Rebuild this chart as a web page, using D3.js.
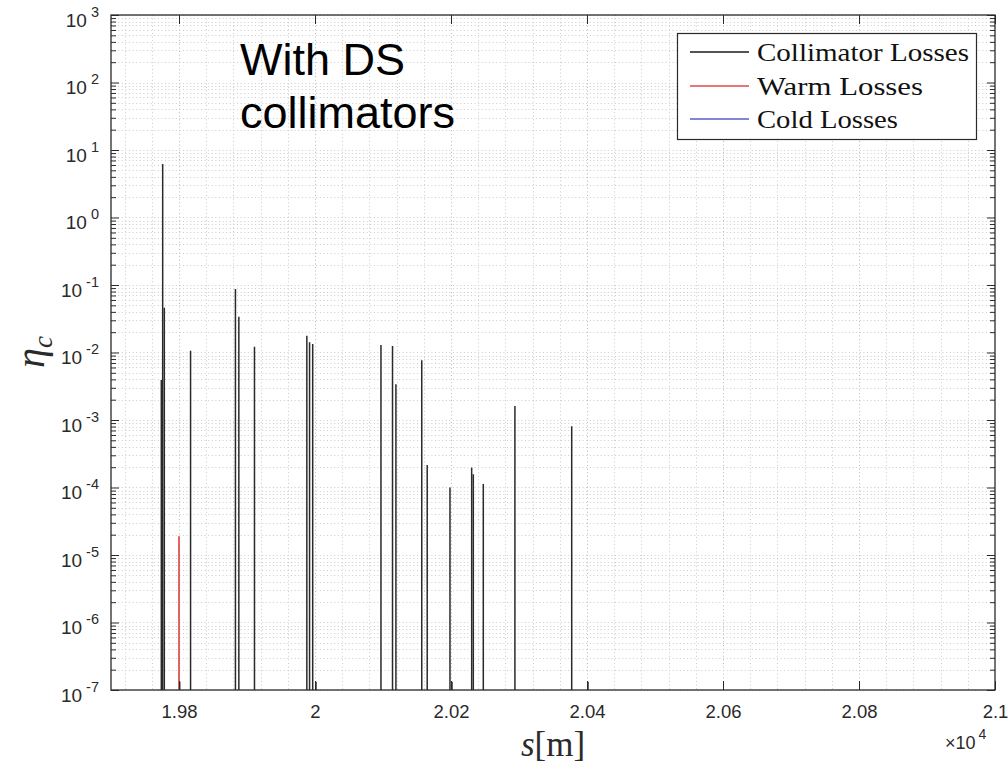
<!DOCTYPE html>
<html>
<head>
<meta charset="utf-8">
<script src="https://cdn.jsdelivr.net/npm/d3@7/dist/d3.min.js"></script>
<style>
  html, body { margin: 0; padding: 0; background: #fff; }
  svg { display: block; }
</style>
</head>
<body>
<svg id="chart" width="1008" height="765"></svg>
<script>
// ---- data (s in metres, eta_c values) ----
const collimatorS = [19774, 19776, 19778.4, 19817, 19883, 19888, 19911, 19988, 19992, 19996.6,
                     20097, 20114, 20119, 20157, 20165, 20198.5, 20230.4, 20232.8, 20247.5, 20294, 20377.5];
const collimatorV = [0.0039, 6.2, 0.046, 0.0106, 0.087, 0.034, 0.0122, 0.0177, 0.0142, 0.0134,
                     0.0129, 0.0125, 0.0034, 0.0077, 0.000215, 0.0001, 0.000197, 0.000157, 0.000113, 0.00161, 0.00081];
const smallS = [19801, 20001.5, 20201.5, 20401.5];
const smallV = [1.33e-7, 1.33e-7, 1.33e-7, 1.33e-7];
const warmS = [19800];
const warmV = [1.9e-5];
const coldS = [];
const coldV = [];
const xTickValues = [19800, 20000, 20200, 20400, 20600, 20800, 21000];
const yExponents = [-7, -6, -5, -4, -3, -2, -1, 0, 1, 2, 3];
const legendLabels = ["Collimator Losses", "Warm Losses", "Cold Losses"];
const legendColors = ["#1a1a1a", "#e04848", "#5a5ad0"];

// ---- layout ----
const L = 111, R = 995, T = 15, B = 690;
const svg = d3.select("#chart");
const x = d3.scaleLinear().domain([19700, 21000]).range([L, R]);
const y = d3.scaleLog().domain([1e-7, 1e3]).range([B, T]);
const axisColor = "#2a2a2a";
const sansFont = "'Liberation Sans', Arial, Helvetica, sans-serif";
const serifFont = "'Liberation Serif', 'Times New Roman', serif";

svg.append("rect").attr("x", L).attr("y", T).attr("width", R - L).attr("height", B - T).attr("fill", "#fff");

// ---- grid ----
const grid = svg.append("g");
const xMinor = d3.range(19720, 21000, 40);
grid.selectAll("line.vx").data(xMinor).enter().append("line")
  .attr("x1", d => Math.round(x(d)) + 0.5).attr("x2", d => Math.round(x(d)) + 0.5).attr("y1", T).attr("y2", B)
  .attr("stroke", d => (d % 200 === 0) ? "#b8b8b8" : "#cccccc")
  .attr("stroke-width", 1).attr("stroke-dasharray", "1,2.6");
const yMinor = [];
for (let e = -7; e < 3; e++) for (let k = 1; k <= 9; k++) yMinor.push(k * Math.pow(10, e));
yMinor.push(1e3);
grid.selectAll("line.hy").data(yMinor).enter().append("line")
  .attr("x1", L).attr("x2", R).attr("y1", d => Math.round(y(d)) + 0.5).attr("y2", d => Math.round(y(d)) + 0.5)
  .attr("stroke", "#cccccc").attr("stroke-width", 1).attr("stroke-dasharray", "1,2.6");

// ---- stems ----
svg.append("clipPath").attr("id", "pc").append("rect")
  .attr("x", L).attr("y", T).attr("width", R - L).attr("height", B - T);
const plot = svg.append("g").attr("clip-path", "url(#pc)");
function stems(sArr, vArr, color, width) {
  plot.append("g").selectAll("line").data(sArr.map((s, i) => [s, vArr[i]])).enter().append("line")
    .attr("x1", d => x(d[0])).attr("x2", d => x(d[0]))
    .attr("y1", y(1e-7)).attr("y2", d => y(d[1]))
    .attr("stroke", color).attr("stroke-width", width);
}
stems(collimatorS, collimatorV, "#2a2a2a", 1.5);
stems(smallS, smallV, "#555", 1.8);
stems(warmS, warmV, "#e04848", 1.7);
stems(coldS, coldV, "#5a5ad0", 1.5);

// ---- axes ----
function styleAxis(g) {
  g.select(".domain").remove();
  g.selectAll(".tick line").attr("stroke", axisColor).attr("stroke-width", 1);
  g.selectAll("text").attr("fill", axisColor).attr("font-family", sansFont).attr("font-size", 18.5);
}
const fmtX = d => String(+(d / 1e4).toFixed(2));
svg.append("g").attr("transform", `translate(0,${B})`)
  .call(d3.axisBottom(x).tickValues(xTickValues).tickSizeInner(-9).tickSizeOuter(0).tickPadding(15).tickFormat(fmtX))
  .call(styleAxis);
svg.append("g").attr("transform", `translate(0,${T})`)
  .call(d3.axisTop(x).tickValues(xTickValues).tickSizeInner(-9).tickSizeOuter(0).tickFormat(""))
  .call(styleAxis);

const yMajor = yExponents.map(e => Math.pow(10, e));
const yMinorTicks = yMinor.filter(v => !yMajor.some(m => Math.abs(m - v) / m < 1e-9));
const yl = svg.append("g").attr("transform", `translate(${L},0)`)
  .call(d3.axisLeft(y).tickValues(yMajor).tickSizeInner(-8).tickSizeOuter(0).tickPadding(0).tickFormat(""))
  .call(styleAxis);
svg.append("g").attr("transform", `translate(${L},0)`)
  .call(d3.axisLeft(y).tickValues(yMinorTicks).tickSizeInner(-5).tickSizeOuter(0).tickFormat(""))
  .call(styleAxis);
svg.append("g").attr("transform", `translate(${R},0)`)
  .call(d3.axisRight(y).tickValues(yMajor).tickSizeInner(-8).tickSizeOuter(0).tickFormat(""))
  .call(styleAxis);
svg.append("g").attr("transform", `translate(${R},0)`)
  .call(d3.axisRight(y).tickValues(yMinorTicks).tickSizeInner(-5).tickSizeOuter(0).tickFormat(""))
  .call(styleAxis);

// y tick labels 10^e
yl.selectAll(".tick").each(function(d) {
  const e = Math.round(Math.log10(d));
  const t = d3.select(this).append("text")
    .attr("x", -12).attr("y", 11).attr("text-anchor", "end")
    .attr("fill", axisColor).attr("font-family", sansFont).attr("font-size", 19);
  t.append("tspan").text("10");
  t.append("tspan").attr("dx", 4).attr("dy", -10).attr("font-size", 14.5).text(String(e));
});

// box
svg.append("rect").attr("x", L).attr("y", T).attr("width", R - L).attr("height", B - T)
  .attr("fill", "none").attr("stroke", axisColor).attr("stroke-width", 1.3);

// ×10^4
const mult = svg.append("text").attr("x", 945).attr("y", 749)
  .attr("fill", axisColor).attr("font-family", sansFont).attr("font-size", 18);
mult.append("tspan").text("×10");
mult.append("tspan").attr("dx", 3).attr("dy", -10).attr("font-size", 14).text("4");

// axis labels
const xl = svg.append("text").attr("x", 553).attr("y", 756).attr("text-anchor", "middle")
  .attr("fill", axisColor).attr("font-family", serifFont).attr("font-size", 35);
xl.append("tspan").attr("font-style", "italic").text("s");
xl.append("tspan").text("[m]");

const ylab = svg.append("text").attr("transform", "translate(44,352) rotate(-90)").attr("text-anchor", "middle")
  .attr("fill", axisColor).attr("font-family", serifFont).attr("font-size", 40);
ylab.append("tspan").attr("font-style", "italic").text("η");
ylab.append("tspan").attr("font-style", "italic").attr("font-size", 27).attr("dy", 8).text("c");

// annotation
const ann = svg.append("text").attr("fill", "#000").attr("font-family", sansFont).attr("font-size", 45);
ann.append("tspan").attr("x", 240).attr("y", 75).text("With DS");
ann.append("tspan").attr("x", 240).attr("y", 128).text("collimators");

// legend
const lg = svg.append("g");
lg.append("rect").attr("x", 677.5).attr("y", 33.5).attr("width", 299).attr("height", 106)
  .attr("fill", "#fff").attr("stroke", axisColor).attr("stroke-width", 1.2);
const rowY = [52, 86, 119];
legendLabels.forEach((lab, i) => {
  lg.append("line").attr("x1", 690).attr("x2", 749).attr("y1", rowY[i]).attr("y2", rowY[i])
    .attr("stroke", legendColors[i]).attr("stroke-width", 1.4);
  const t = lg.append("text").attr("x", 757).attr("y", rowY[i] + 8.5)
    .attr("fill", "#111").attr("font-family", serifFont).attr("font-size", 25).text(lab);
  const w = t.node().getComputedTextLength();
  const target = [212, 166, 141][i];
  if (Math.abs(w - target) > 2) t.attr("textLength", target).attr("lengthAdjust", "spacingAndGlyphs");
});
</script>
</body>
</html>
